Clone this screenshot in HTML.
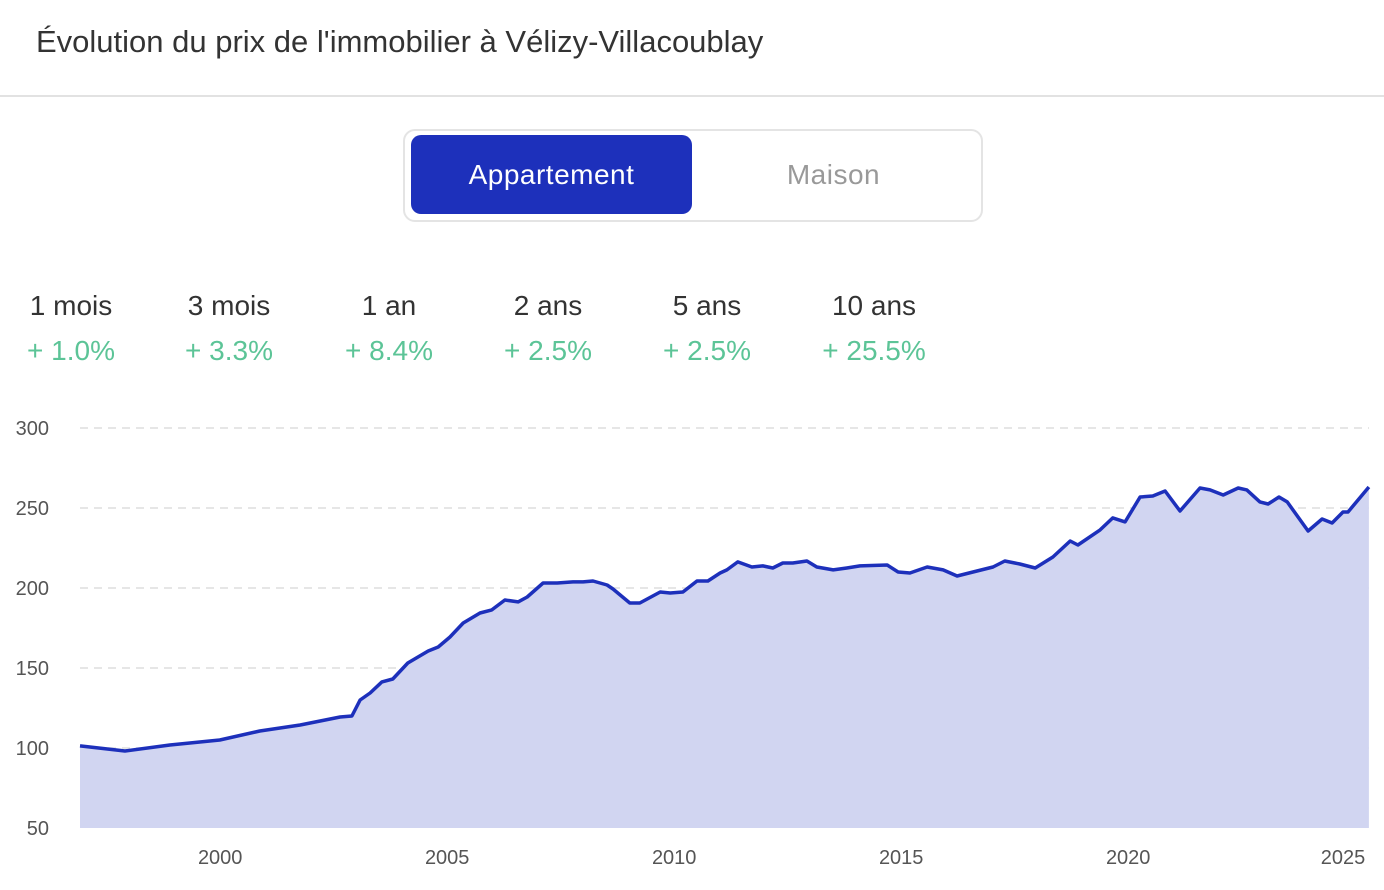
<!DOCTYPE html>
<html><head><meta charset="utf-8"><style>
body{margin:0;width:1384px;height:890px;background:#fff;font-family:"Liberation Sans",sans-serif;position:relative;overflow:hidden}
.t{position:absolute;white-space:nowrap}
</style></head><body>
<div class="t" style="left:36px;top:24px;font-size:31px;color:#333">Évolution du prix de l'immobilier à Vélizy-Villacoublay</div>
<div style="position:absolute;left:0;top:95px;width:1384px;height:2px;background:#e2e2e2"></div>
<div style="position:absolute;left:403px;top:129px;width:576px;height:89px;border:2px solid #e4e4e4;border-radius:12px"></div>
<div style="position:absolute;left:411px;top:135px;width:281px;height:79px;background:#1d30bb;border-radius:10px;color:#fff;font-size:28px;line-height:79px;text-align:center;letter-spacing:0.5px">Appartement</div>
<div style="position:absolute;left:692px;top:135px;width:283px;height:79px;color:#999;font-size:28px;line-height:79px;text-align:center;letter-spacing:0.5px">Maison</div>
<div id="stats"></div>
<svg id="chart" width="1384" height="890" style="position:absolute;left:0;top:0"></svg>
<script>
const statLabels=["1 mois","3 mois","1 an","2 ans","5 ans","10 ans"];
const statValues=["+ 1.0%","+ 3.3%","+ 8.4%","+ 2.5%","+ 2.5%","+ 25.5%"];
const statCenters=[71,229,389,548,707,874];
const st=document.getElementById('stats');
statLabels.forEach((l,i)=>{
  const a=document.createElement('div');a.className='t';
  
  
  a.style.cssText=`left:${statCenters[i]-80}px;width:160px;text-align:center;top:290px;font-size:28px;color:#333`;
  a.textContent=l;st.appendChild(a);
  const b=document.createElement('div');b.className='t';
  
  
  b.style.cssText=`left:${statCenters[i]-80}px;width:160px;text-align:center;top:335px;font-size:28px;color:#5cc497`;
  b.textContent=statValues[i];st.appendChild(b);
});

const years=[1997.00,1997.99,1998.98,2000.08,2000.96,2001.85,2002.73,2002.99,2003.17,2003.39,2003.65,2003.89,2004.22,2004.67,2004.89,2005.15,2005.44,2005.81,2006.07,2006.36,2006.65,2006.85,2007.20,2007.51,2007.86,2008.08,2008.30,2008.61,2008.74,2009.11,2009.33,2009.78,2010.00,2010.28,2010.59,2010.83,2011.10,2011.25,2011.49,2011.80,2012.04,2012.26,2012.48,2012.70,2013.01,2013.23,2013.59,2013.89,2014.18,2014.78,2015.02,2015.28,2015.66,2016.01,2016.32,2016.67,2017.11,2017.37,2017.70,2018.04,2018.43,2018.81,2018.98,2019.47,2019.75,2020.02,2020.35,2020.63,2020.90,2021.23,2021.67,2021.89,2022.18,2022.51,2022.70,2022.99,2023.17,2023.41,2023.59,2024.05,2024.36,2024.58,2024.82,2024.93,2025.39];
const prices=[101.3,98.1,101.9,105,110.6,114.4,119.4,120,130,134.4,141.3,143.1,153.1,160.6,163.1,169.4,178.1,184.4,186.3,192.5,191.3,194.4,203.1,203.1,203.8,203.8,204.4,201.9,199.4,190.6,190.6,197.5,196.9,197.5,204.4,204.4,209.4,211.3,216.3,213.1,213.8,212.5,215.6,215.6,216.9,213.1,211.3,212.5,213.8,214.4,210,209.4,213.1,211.3,207.5,210,213.1,216.9,215,212.5,219.4,229.4,226.9,236.3,243.8,241.3,256.9,257.5,260.6,248.1,262.5,261.3,258.1,262.5,261.3,253.8,252.5,256.9,253.8,235.6,243.1,240.6,247.5,247.5,263.1];
const yTicks=[50,100,150,200,250,300];
const xTicks=[2000,2005,2010,2015,2020,2025];

const X0=80,X1=1369,x0Year=1997,pxYear=45.4;
const xs=y=>X0+(y-x0Year)*pxYear;
const ys=v=>428+(300-v)*1.6;
const svg=document.getElementById('chart');const NS='http://www.w3.org/2000/svg';
function mk(t,attrs){const e=document.createElementNS(NS,t);for(const k in attrs)e.setAttribute(k,attrs[k]);svg.appendChild(e);return e;}
yTicks.forEach(v=>{
  if(v>50){const g=mk('line',{x1:X0,x2:X1,y1:ys(v),y2:ys(v),stroke:'#dedede','stroke-width':1.5,'stroke-dasharray':'8 6'});
  
  }
  const t=mk('text',{x:49,y:ys(v)+7,'text-anchor':'end','font-size':20,fill:'#555','font-family':'Liberation Sans, sans-serif'});
  
  
  t.textContent=v;
});
let d='';years.forEach((y,i)=>{d+=(i?'L':'M')+xs(y).toFixed(1)+','+ys(prices[i]).toFixed(1);});
const area=mk('path',{d:d+`L${xs(years[years.length-1])},${ys(50)}L${xs(years[0])},${ys(50)}Z`,fill:'#d1d5f1'});


const line=mk('path',{d:d,fill:'none',stroke:'#1d30bb','stroke-width':3.5,'stroke-linejoin':'round'});


xTicks.forEach(y=>{
  const t=mk('text',{x:Math.min(xs(y)+4,1343),y:864,'text-anchor':'middle','font-size':20,fill:'#555','font-family':'Liberation Sans, sans-serif'});
  
  
  t.textContent=y;
});
</script>
</body></html>
